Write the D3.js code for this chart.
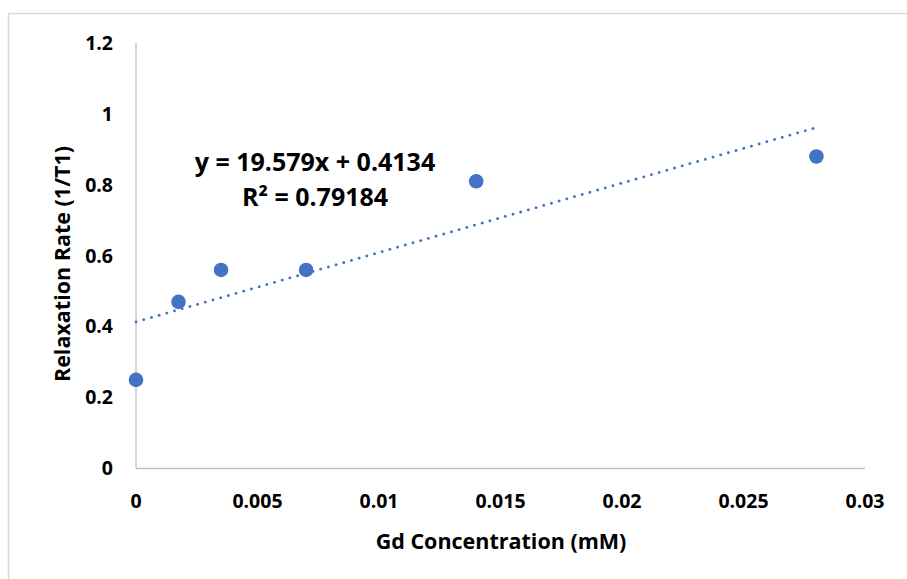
<!DOCTYPE html>
<html>
<head>
<meta charset="utf-8">
<script src="https://cdn.jsdelivr.net/npm/d3@7"></script>
<style>
  body { margin: 0; background: #fff; }
  text { font-family: "Open Sans", "Noto Sans", sans-serif; font-weight: bold; fill: #000; }
</style>
</head>
<body>
<div id="chart"></div>
<script>
// data
const concentration = [0, 0.00175, 0.0035, 0.007, 0.014, 0.028];
const relaxationRate = [0.25, 0.47, 0.56, 0.56, 0.81, 0.88];
const xTicks = [0, 0.005, 0.01, 0.015, 0.02, 0.025, 0.03];
const yTicks = [0, 0.2, 0.4, 0.6, 0.8, 1, 1.2];
const slope = 19.579;
const intercept = 0.4134;
const eqLines = ["y = 19.579x + 0.4134", "R² = 0.79184"];

const width = 907;
const height = 579;
const blue = "#4472c4";
const axisGrey = "#bfbfbf";

const svg = d3.select("#chart")
  .append("svg")
  .attr("width", width)
  .attr("height", height);

// outer chart border (only top and left visible in the crop)
svg.append("rect")
  .attr("x", 8.5)
  .attr("y", 13.5)
  .attr("width", width + 20)
  .attr("height", height + 20)
  .attr("fill", "none")
  .attr("stroke", "#d9d9d9")
  .attr("stroke-width", 1.5);

const xScale = d3.scaleLinear().domain([0, 0.03]).range([136, 865]);
const yScale = d3.scaleLinear().domain([0, 1.2]).range([468.5, 43]);

// axis lines
svg.append("line")
  .attr("x1", xScale(0)).attr("x2", xScale(0))
  .attr("y1", yScale(1.2)).attr("y2", yScale(0))
  .attr("stroke", axisGrey).attr("stroke-width", 1.3);

svg.append("line")
  .attr("x1", xScale(0)).attr("x2", xScale(0.03))
  .attr("y1", yScale(0)).attr("y2", yScale(0))
  .attr("stroke", axisGrey).attr("stroke-width", 1.3);

// tick labels
svg.selectAll(".ytick")
  .data(yTicks)
  .enter()
  .append("text")
  .attr("class", "ytick")
  .attr("x", 113)
  .attr("y", d => yScale(d))
  .attr("dy", "0.35em")
  .attr("text-anchor", "end")
  .style("font-size", "19.5px")
  .text(d => d3.format("~g")(d));

svg.selectAll(".xtick")
  .data(xTicks)
  .enter()
  .append("text")
  .attr("class", "xtick")
  .attr("x", d => xScale(d))
  .attr("y", 501)
  .attr("dy", "0.35em")
  .attr("text-anchor", "middle")
  .style("font-size", "19.5px")
  .text(d => d3.format("~g")(d));

// axis titles
svg.append("text")
  .attr("x", 501)
  .attr("y", 541)
  .attr("dy", "0.35em")
  .attr("text-anchor", "middle")
  .style("font-size", "21.5px")
  .text("Gd Concentration (mM)");

svg.append("text")
  .attr("transform", "translate(62,264) rotate(-90)")
  .attr("dy", "0.35em")
  .attr("text-anchor", "middle")
  .style("font-size", "21.5px")
  .text("Relaxation Rate (1/T1)");

// linear trendline, dotted
const xMax = d3.max(concentration);
svg.append("line")
  .attr("x1", xScale(0))
  .attr("y1", yScale(intercept))
  .attr("x2", xScale(xMax))
  .attr("y2", yScale(slope * xMax + intercept))
  .attr("stroke", blue)
  .attr("stroke-width", 2.8)
  .attr("stroke-linecap", "round")
  .attr("stroke-dasharray", "0.1 7.9");

// markers
svg.selectAll(".pt")
  .data(concentration.map((c, i) => [c, relaxationRate[i]]))
  .enter()
  .append("circle")
  .attr("class", "pt")
  .attr("cx", d => xScale(d[0]))
  .attr("cy", d => yScale(d[1]))
  .attr("r", 7.3)
  .attr("fill", blue);

// trendline equation
svg.selectAll(".eq")
  .data(eqLines)
  .enter()
  .append("text")
  .attr("class", "eq")
  .attr("x", 315)
  .attr("y", (d, i) => 162 + i * 35)
  .attr("dy", "0.35em")
  .attr("text-anchor", "middle")
  .style("font-size", "25px")
  .text(d => d);
</script>
</body>
</html>
